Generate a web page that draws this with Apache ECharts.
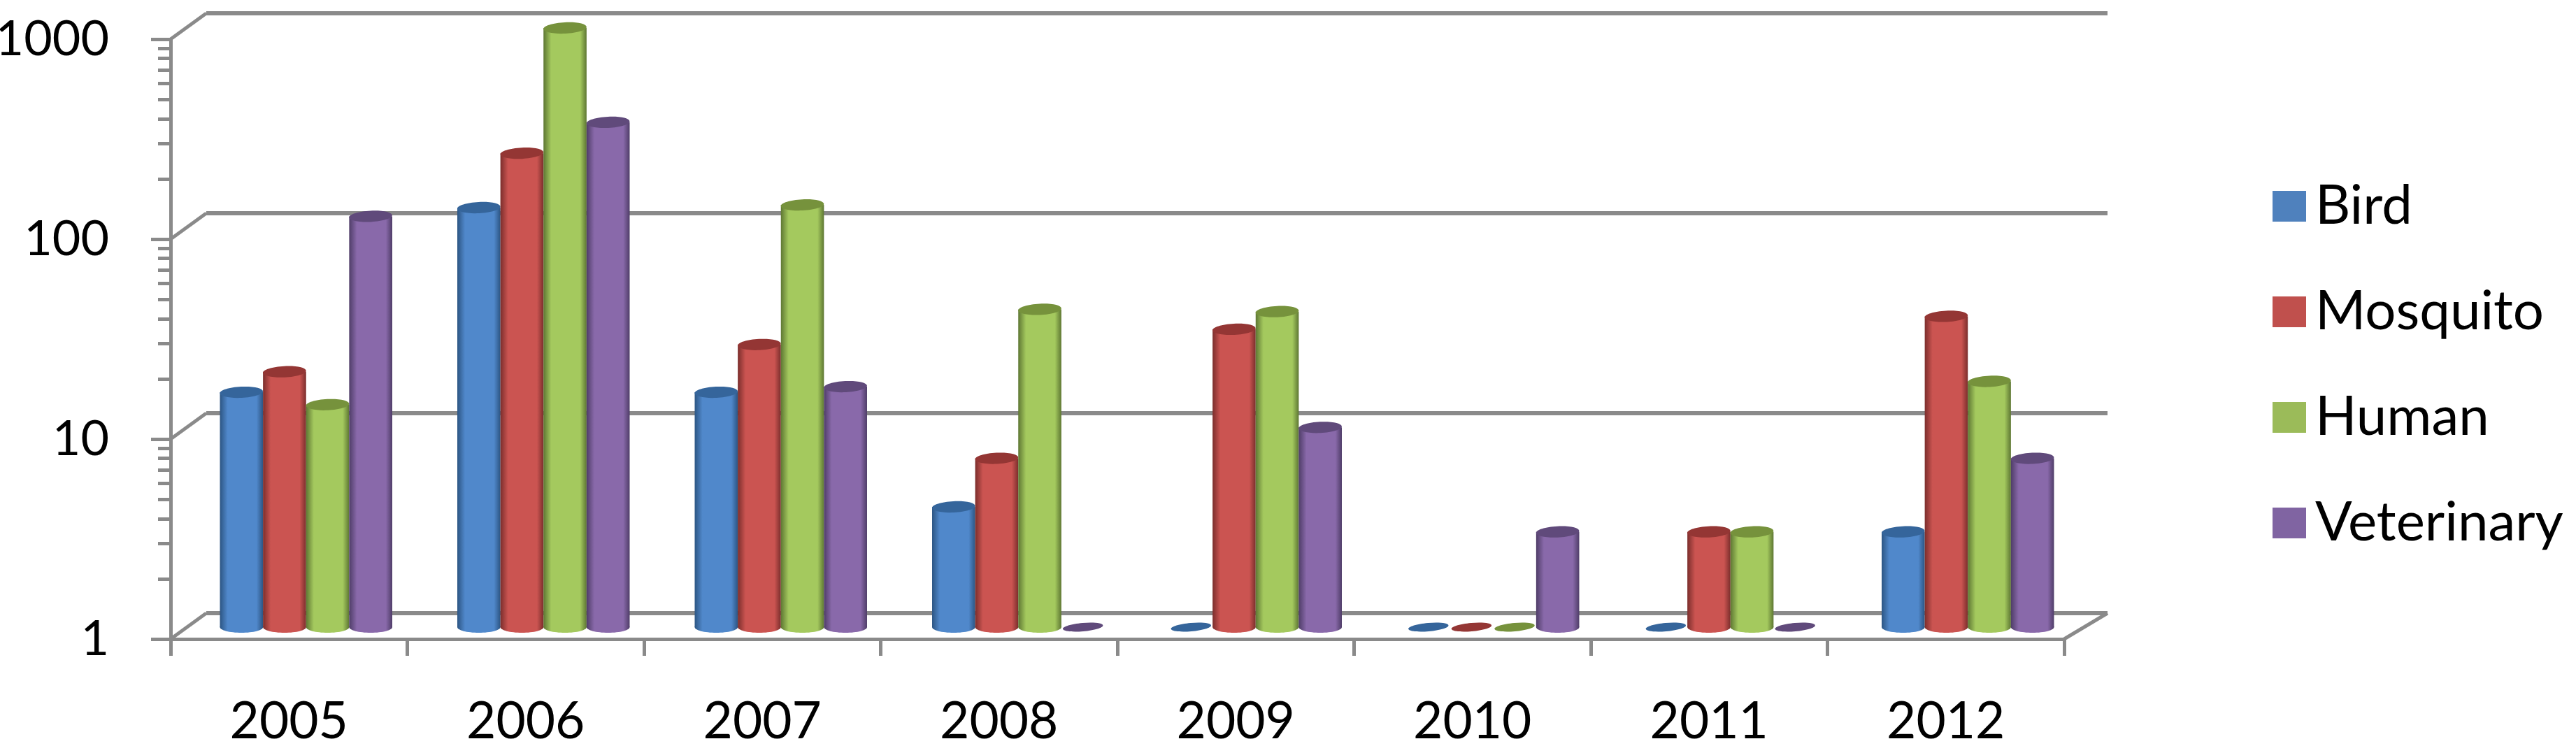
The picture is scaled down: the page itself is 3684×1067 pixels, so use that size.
<!DOCTYPE html>
<html><head><meta charset="utf-8">
<style>html,body{margin:0;padding:0;background:#fff}#c{width:3684px;height:1067px}</style>
<script src="https://cdn.jsdelivr.net/npm/echarts@6/dist/echarts.min.js"></script>
</head><body><div id="c"></div>
<script>
const years = ['2005','2006','2007','2008','2009','2010','2011','2012'];
const bird = [15,126,15,4,1,1,1,3];
const mosquito = [19,236,26,7,31,1,3,36];
const human = [13,1000,130,39,38,1,3,17];
const veterinary = [114,337,16,1,10,3,1,7];
const majorTicks = [1,10,100,1000];
const minorTicks = [2,3,4,5,6,7,8,9,20,30,40,50,60,70,80,90,200,300,400,500,600,700,800,900];

const FRONT = {left:244, top:56, width:2708, height:858};
const BACK = {left:295, top:19, width:2719, height:858};
const MID = {left:268, top:40, width:2716, height:857};
const GRAY = '#8a8a8a';

const looks = [
 {name:'Bird', data:bird, color:'#4F81BD', edge:'#2c5583', mid:'#5088cb', top:'#35659b'},
 {name:'Mosquito', data:mosquito, color:'#C0504D', edge:'#7b2e2c', mid:'#cb5451', top:'#943634'},
 {name:'Human', data:human, color:'#9BBB59', edge:'#5e7733', mid:'#a4c95e', top:'#76923c'},
 {name:'Veterinary', data:veterinary, color:'#8064A2', edge:'#4f3d68', mid:'#8969aa', top:'#604a7b'}
];

function cylinder(look, idx){
  return function(params, api){
    const cat = api.value(0), val = api.value(1);
    const bandW = api.size([1,0])[0];
    const w = bandW * 0.1815;
    const base = api.coord([cat,1]);
    const top = api.coord([cat,val]);
    const x = base[0] + (idx-2)*w;
    const cx = x + w/2, rx = w/2;
    const ry = 8;
    if (val <= 1) {
      return {type:'ellipse', shape:{cx:cx, cy:base[1], rx:rx-2, ry:6},
        rotation:0.09, originX:cx, originY:base[1], style:{fill:look.top}};
    }
    const grad = new echarts.graphic.LinearGradient(0,0,1,0,[
      {offset:0,color:look.edge},{offset:0.18,color:look.mid},
      {offset:0.55,color:look.mid},{offset:0.85,color:look.mid},{offset:1,color:look.edge}]);
    return {type:'group', children:[
      {type:'ellipse', shape:{cx:cx, cy:base[1], rx:rx, ry:ry}, style:{fill:grad}},
      {type:'rect', shape:{x:x, y:top[1], width:w, height:base[1]-top[1]}, style:{fill:grad}},
      {type:'ellipse', shape:{cx:cx, cy:top[1], rx:rx, ry:ry}, rotation:0.05, originX:cx, originY:top[1], style:{fill:look.top}}
    ]};
  };
}

const dx = BACK.left-FRONT.left, dy = BACK.top-FRONT.top;
const dxR = BACK.left+BACK.width-FRONT.left-FRONT.width;

const frameSeries = {
  type:'custom', xAxisIndex:0, yAxisIndex:0, silent:true, z:1, clip:false,
  data: majorTicks.map(v=>[0,v]),
  encode:{x:0,y:1},
  renderItem(params, api){
    const p = api.coord([0, api.value(1)]);
    const x0 = FRONT.left, y0 = p[1];
    const kids = [{type:'line', shape:{x1:x0,y1:y0,x2:x0+dx,y2:y0+dy}, style:{stroke:GRAY,lineWidth:5}}];
    if (api.value(1) === 1) {
      const xr = FRONT.left+FRONT.width;
      kids.push({type:'line', shape:{x1:xr,y1:y0,x2:xr+dxR,y2:y0+dy}, style:{stroke:GRAY,lineWidth:5}});
    }
    return {type:'group', children:kids};
  }
};

const font = {fontFamily:'Lato', fontSize:73, color:'#000'};
const axisLineStyle = {color:GRAY, width:5};
const hidden = {axisLine:{show:false}, axisTick:{show:false}, axisLabel:{show:false}, splitLine:{show:false}};

const option = {
  animation:false,
  backgroundColor:'#fff',
  grid:[FRONT,BACK,MID].map(g=>Object.assign({containLabel:false, outerBoundsMode:'none'},g)),
  legend:{
    data:looks.map(l=>l.name), orient:'vertical', left:3245, top:251,
    itemWidth:48, itemHeight:44, itemGap:73, icon:'rect',
    textStyle:Object.assign({},font,{fontSize:78, padding:[0,0,0,8]}), selectedMode:false
  },
  xAxis:[
    {type:'category', gridIndex:0, data:years, boundaryGap:true,
     axisLine:{lineStyle:axisLineStyle}, axisTick:{show:true,length:24,alignWithLabel:false,lineStyle:axisLineStyle},
     axisLabel:Object.assign({margin:82,interval:0},font), splitLine:{show:false}},
    Object.assign({type:'category', gridIndex:1, data:years}, hidden),
    Object.assign({type:'category', gridIndex:2, data:years}, hidden)
  ],
  yAxis:[
    {type:'log', gridIndex:0, logBase:10, min:1, max:1000,
     axisLine:{show:true,lineStyle:axisLineStyle},
     axisTick:{show:true,length:28,lineStyle:axisLineStyle},
     axisLabel:Object.assign({margin:88,formatter:v=>String(v)},font,{fontSize:70}), splitLine:{show:false}},
    Object.assign({type:'log', gridIndex:1, logBase:10, min:1, max:1000}, hidden,
      {splitLine:{show:true,lineStyle:{color:GRAY,width:6}}}),
    Object.assign({type:'log', gridIndex:2, logBase:10, min:1, max:1000}, hidden),
    {type:'log', gridIndex:0, logBase:10, min:1, max:1000, position:'left',
     axisLine:{show:false},
     axisTick:{show:true,length:18,customValues:minorTicks,lineStyle:axisLineStyle},
     axisLabel:{show:false}, splitLine:{show:false}}
  ],
  series:[frameSeries].concat(looks.map((l,i)=>({
    type:'custom', name:l.name, xAxisIndex:2, yAxisIndex:2, z:5+i, clip:false,
    itemStyle:{color:l.color},
    encode:{x:0,y:1},
    data:l.data.map((v,c)=>[c,v]),
    renderItem:cylinder(l,i)
  })))
};
const chart = echarts.init(document.getElementById('c'),null,{renderer:'canvas'});
chart.setOption(option);
</script></body></html>
